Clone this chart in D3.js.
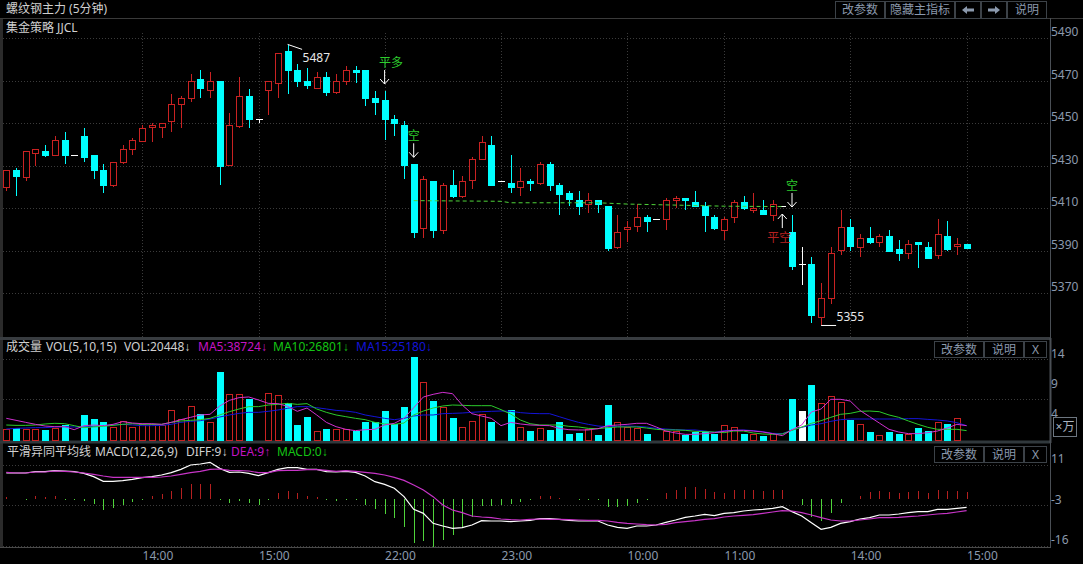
<!DOCTYPE html>
<html><head><meta charset="utf-8">
<script src="https://cdnjs.cloudflare.com/ajax/libs/d3/7.8.5/d3.min.js"></script>
<style>
html,body{margin:0;padding:0;background:#000;overflow:hidden}
svg{display:block}
text{font-family:"Noto Sans","Noto Sans CJK SC",sans-serif;font-size:12px}
tspan.ar{font-family:"Liberation Sans",sans-serif}
</style></head><body>
<svg id="c" width="1083" height="564"></svg>
<script>
const opens=[5420,5428,5425,5436,5437,5435,5442,5435,5444,5435,5428,5421,5432,5438,5442,5448,5448,5451,5459,5462,5471,5466,5470,5430,5449,5463,5452,5466,5469,5484,5475,5470,5467,5472,5465,5470,5475,
5475,5462,5461,5452,5449,5431,5401,5423,5400,5421,5416,5423,5433,5440,5423,5422,5420,5423,5422,5431,5421,5417,5414,5412,5414,
5411,5392,5400,5402,5406,5405,5405,5414,5415,5413,5411,5406,5400,5406,5413,5409,5409,5407,5411,
5399,5384,5384,5359,5368,5390,5401,5392,5396,5394,5397,5391,5389,5394,5392,5388,5397,5392,5393];
const closes=[5428,5425,5437,5438,5435,5442,5435,5435,5434,5428,5421,5432,5438,5442,5448,5449,5450,5459,5462,5470,5467,5470,5430,5449,5463,5452,5452,5470,5483,5475,5470,5468,5472,5465,5470,5475,5474,
5462,5460,5452,5450,5430,5399,5424,5400,5421,5416,5423,5433,5441,5421,5423,5420,5423,5422,5431,5421,5417,5414,5411,5414,5412,
5391,5399,5401,5406,5404,5405,5414,5415,5414,5411,5407,5401,5405,5413,5410,5410,5407,5412,5411,
5383,5384,5360,5368,5389,5401,5392,5396,5394,5397,5390,5389,5393,5393,5387,5398,5391,5393,5391];
const highs=[5428,5429,5437,5438,5440,5444,5446,5435,5448,5435,5431,5432,5440,5443,5449,5450,5450,5464,5463,5473,5475,5474,5470,5455,5472,5466,5452,5470,5483,5487,5478,5476,5474,5474,5473,5477,5477,
5475,5465,5465,5454,5451,5431,5425,5423,5422,5428,5425,5434,5444,5444,5423,5435,5429,5424,5432,5432,5422,5418,5418,5417,5414,
5411,5407,5404,5412,5407,5405,5415,5416,5415,5418,5413,5407,5406,5414,5416,5417,5414,5414,5411,
5407,5392,5387,5375,5392,5409,5405,5398,5401,5398,5400,5395,5395,5394,5394,5405,5404,5396,5393];
const lows=[5418,5416,5423,5430,5434,5435,5431,5435,5432,5424,5417,5420,5431,5435,5441,5441,5443,5446,5448,5460,5462,5462,5421,5430,5448,5448,5450,5454,5462,5464,5467,5466,5467,5463,5464,5468,5469,
5458,5454,5442,5444,5424,5396,5396,5396,5398,5415,5415,5419,5433,5421,5423,5417,5416,5418,5421,5418,5407,5411,5407,5408,5408,
5390,5391,5394,5399,5399,5405,5400,5410,5409,5411,5399,5400,5395,5403,5409,5408,5407,5404,5411,
5381,5374,5356,5355,5365,5388,5390,5387,5393,5392,5390,5385,5386,5382,5387,5386,5390,5388,5391];
const volumes=[1.78,2,1.78,1.78,1.67,2,2.5,0,4.17,3.5,2.94,2.17,3.17,2.17,2.61,2.72,2.5,4.94,3.5,5.61,4.28,2.94,11.33,7.61,7.61,6.83,0,7.83,7.44,6.11,2.5,3.83,1.44,1.83,1.78,1.83,1.5,
3.06,2.94,4.83,2.61,5.5,13.83,9.61,6.5,5.56,3.67,2.11,3.17,4.28,3.06,0,5,2.11,1.5,2,1.67,2.94,1,1.17,1.78,0.83,5.83,2.94,2.11,2,1,0,1.5,1.44,0.83,1.33,1.44,1,
2.5,2.17,1,1,0.67,1.11,0,6.83,4.83,9.17,6.17,7.28,6.33,3.33,2.67,1.33,0.83,1.33,1.06,1,2,1.5,2.94,2.67,3.61,0];
const ma5=[3.61,3.28,2.94,2.61,2.33,2.22,2.22,1.72,2.39,2.5,2.39,2.61,3.06,2.83,2.72,2.72,2.61,2.94,3.39,3.78,4.17,4.28,5.67,6.61,7.06,7.17,6.67,6.11,6.06,5.61,4.78,5.33,4.17,2.94,2.22,1.78,1.56,
1.72,1.78,2.5,2.78,3.61,5.39,7.17,7.61,7.94,7.72,5.83,4.39,4,3.61,2.39,2.94,2.67,2.5,2.44,2.39,1.94,1.72,1.67,1.67,1.89,2.39,2.5,2.61,2.78,2.78,2.17,1.5,1.17,0.94,0.94,1.06,1.22,
1.44,1.61,1.61,1.5,1.33,1.06,0.72,1.72,2.5,4.67,5.17,6.78,6.78,6.5,4.94,3.89,2.83,1.78,1.33,1.06,1.06,1.22,1.5,2,2.61,2.39];
const ma10=[2.5,2.44,2.44,2.5,2.67,2.78,2.72,2.39,2.06,2.17,2.28,2.44,2.61,2.72,2.61,2.61,2.61,2.94,3.17,3.28,3.39,3.61,4.17,4.72,5.17,5.56,5.56,5.83,5.94,6.11,5.94,6.06,5.17,4.61,4.17,3.89,3.61,
3.39,2.94,2.67,2.61,2.83,4.17,4.83,5.33,5.67,5.83,5.78,5.72,5.72,5.72,5.06,4.33,3.33,2.72,2.5,2.5,2.5,2.28,2.17,1.94,1.89,2.06,2.17,2.17,2.17,2,1.78,1.67,1.67,1.61,1.44,1.39,1.33,
1.22,1.5,1.5,1.17,1,0.94,1,1.61,2.17,2.78,3.22,3.78,4.28,4.44,4.78,4.83,4.72,4.17,3.78,3.17,2.61,2.11,1.78,1.78,1.78,1.56];
const ma15=[1.83,1.94,2,2.06,2.06,2.17,2.22,2.17,2.17,2.28,2.39,2.5,2.61,2.5,2.39,2.39,2.44,2.61,2.94,3.11,3.22,3.5,3.83,4.17,4.44,4.61,4.61,4.78,5,5.28,5.56,5.56,5.39,5.17,4.94,4.83,4.61,
4.17,3.89,3.61,3.39,3.61,4,4.17,4.17,4.39,4.44,4.5,4.61,4.72,4.78,4.83,4.78,4.56,4.44,4.39,4.39,3.89,3.39,2.94,2.61,2.33,2.22,2.28,2.33,2.28,2.17,1.94,1.83,1.72,1.67,1.67,1.5,1.28,
1.56,1.61,1.67,1.56,1.39,1.11,1.06,1.67,2.11,2.5,2.72,3.11,3.39,3.5,3.5,3.5,3.5,3.5,3.5,3.56,3.56,3.44,3.33,3.17,2.89,2.39];
const macd=[0.67,-0.1,-0.2,1,0.78,1,-0.2,-0.3,-0.67,-1.67,-3.67,-2.89,-2,-1.1,-0.2,1,1.67,2.67,3.67,5,5,5,-0.33,-1.22,-0.67,-1.44,-2,-0.33,2,2.67,2,1,0.78,-0.44,-0.67,-0.33,-0.44,
-2,-3.33,-5,-6.33,-9.33,-14.67,-14,-16,-13.67,-12,-9.33,-6,-2.33,-2.33,-2,-1.67,-1,-0.33,1,1,0.2,-0.1,-0.33,-0.33,-0.33,-2.67,-2.67,-2.33,-1.33,-0.33,-0.1,2,3,4,4,3.33,2.33,
2,3,3,3,2.67,3,3,-0.1,-2,-6,-7.33,-4.67,-1.33,-0.1,1,2.22,2.67,2.33,2,2.33,2.67,2,3,2.67,2.67,2.33];
const diff=[8.67,8.67,8.67,9.11,9.11,9.44,9.33,9.11,8.56,7.44,5.89,5.89,6.11,6.56,7.11,7.44,8,8.78,9.89,11.33,11.67,12.22,10.22,8.89,9,8.56,7.78,8.78,9.89,10.44,10.44,9.89,9.89,9.11,9,9.22,8.89,
7.67,5.78,4.89,3.56,0.78,-3.44,-4.78,-8.11,-9,-9.78,-9.56,-8.67,-7.22,-7.33,-7.33,-7.56,-7.33,-7.11,-6.56,-6.56,-6.78,-7.11,-7.33,-7.33,-7.33,-8.67,-9.44,-9.78,-9,-9,-8.67,-7.78,-7,-6.11,-5.67,-5.11,-5.56,
-4.78,-4.56,-4,-3.67,-3.44,-3.11,-2.56,-4.22,-5.67,-7.89,-10.11,-9.44,-8.11,-7.56,-6.67,-6.22,-5.33,-5.33,-5,-4.56,-4.22,-4.22,-3.44,-3.44,-3.11,-2.78];
const dea=[8.89,8.67,8.67,9,9,9.33,9.22,9,8.67,8.22,7.67,7.22,7.22,7.22,7.22,7.22,7.33,7.67,8.22,8.78,9.22,9.89,10,9.56,9.44,9.33,8.78,8.78,9.44,9.56,9.56,9.78,9.78,9.56,9.22,9.44,9.22,
8.89,8.56,8,7.22,6.22,4.67,3,0.78,-2,-3.67,-4.56,-5.67,-6,-6.22,-6.67,-6.89,-7,-6.78,-6.67,-6.78,-6.78,-6.89,-7,-7.11,-7.11,-7.33,-7.78,-8.11,-8.33,-8.56,-8.67,-8.44,-7.89,-7.56,-7.22,-6.78,-6.56,
-6,-5.67,-5.44,-5.22,-4.78,-4.33,-3.89,-4,-4.56,-5.33,-6.22,-7,-7.33,-7.33,-7,-6.67,-6.22,-6.22,-6.11,-5.89,-5.67,-5.33,-5,-4.78,-4.33,-3.89];
const dashIdx=[42,51,52,61,62,64,74,80];
const dashPrice=[5413.6,5413.3,5412.6,5412.6,5412.4,5412,5411,5410.8];
const priceTicks=[5490,5470,5450,5430,5410,5390,5370];
const volTicks=[14,9,4];
const volGrid=[13.5,6.78];
const macdTicks=[11,-3,-16];
const macdGrid=[11.2,-2.1,-15.5];
const timeIdx=[14,26,39,51,64,74,87,99];
const timeLabels=["14:00","15:00","22:00","23:00","10:00","11:00","14:00","15:00"];
const signals=[{i:39,tip:5468.5,dir:"down",label:"平多",color:"#2ecb2e",dx:6.5},{i:42,tip:5434,dir:"down",label:"空",color:"#2ecb2e",dx:0},{i:81,tip:5410.6,dir:"down",label:"空",color:"#2ecb2e",dx:0},{i:80,tip:5407.3,dir:"up",label:"平空",color:"#b52020",dx:-3}];

const AX="#8b99ad",RED="#c92222",CYAN="#00ffff",GRID="#3b3b3b";
const svg=d3.select("#c");
const x=d3.scaleLinear().domain([0,99]).range([6.3,966.6]);
const yP=d3.scaleLinear().domain([5490,5370]).range([38.3,293.3]);
const yV=d3.scaleLinear().domain([0,14]).range([440,356]);
const yM=d3.scaleLinear().domain([0,11]).range([499,466]);
const idx=d3.range(closes.length);
const colorOf=i=>closes[i]===opens[i]?"#fff":closes[i]>opens[i]?RED:CYAN;

// frame
function hl(y,x1,x2,c,w,dash){svg.append("line").attr("x1",x1).attr("x2",x2).attr("y1",y).attr("y2",y).attr("stroke",c).attr("stroke-width",w||1).attr("stroke-dasharray",dash||null);}
function vl(xp,y1,y2,c,w,dash){svg.append("line").attr("x1",xp).attr("x2",xp).attr("y1",y1).attr("y2",y2).attr("stroke",c).attr("stroke-width",w||1).attr("stroke-dasharray",dash||null);}
svg.append("rect").attr("x",0).attr("y",18).attr("width",3).attr("height",530).attr("fill","#2b2b2b");
hl(18.5,0,1083,"#3a3a3a");
hl(338.5,0,1051,"#383c40",3);
hl(442,0,1051,"#30383c",3);
hl(547.5,0,1051,"#4a4a4a");
vl(1050.5,18,548,"#4a4f55");
vl(1050.5,338,443,"#4a4f55",2);

// grids
priceTicks.forEach(t=>hl(Math.round(yP(t))+.5,3,1050,GRID,1,"1 2"));
timeIdx.forEach(i=>vl(Math.round(x(i))+.5,33,337,GRID,1,"1 2"));
volGrid.forEach(t=>hl(Math.round(yV(t))+.5,3,1050,GRID,1,"1 2"));
macdGrid.forEach(t=>hl(Math.round(yM(t))+.5,3,1050,GRID,1,"1 2"));

// axes
function styleAxis(g){g.select(".domain").remove();g.selectAll(".tick line").remove();g.selectAll("text").attr("fill",AX).style("font-size","12px");}
svg.append("g").attr("transform","translate(1051,-6.5)").call(d3.axisRight(yP).tickValues(priceTicks).tickSize(0).tickPadding(0).tickFormat(d3.format("d"))).call(styleAxis);
svg.append("g").attr("transform","translate(1051,-2.8)").call(d3.axisRight(yV).tickValues(volTicks).tickSize(0).tickPadding(0)).call(styleAxis);
const yMlab=d3.scaleOrdinal().domain(macdTicks).range([458,499,539]);
svg.append("g").attr("transform","translate(1051,1)").call(d3.axisRight(yMlab).tickValues(macdTicks).tickSize(0).tickPadding(0)).call(g=>{styleAxis(g);g.selectAll("text").text(d=>d);});
const xTime=d3.scaleOrdinal().domain(timeIdx).range(timeIdx.map(x));
svg.append("g").attr("transform","translate(0,549)").call(d3.axisBottom(xTime).tickValues(timeIdx).tickSize(0).tickPadding(0).tickFormat((d,k)=>timeLabels[k])).call(g=>{styleAxis(g);g.selectAll("text").attr("text-anchor","start").attr("dy","0.95em");});

// candles
const gc=svg.append("g").attr("shape-rendering","crispEdges");
const W=7;
gc.selectAll("line.w").data(idx).join("line").attr("class","w")
 .attr("x1",i=>Math.round(x(i))+.5).attr("x2",i=>Math.round(x(i))+.5)
 .attr("y1",i=>yP(highs[i])).attr("y2",i=>yP(lows[i])).attr("stroke",colorOf);
gc.selectAll("rect.b").data(idx.filter(i=>closes[i]!==opens[i])).join("rect").attr("class","b")
 .attr("x",i=>Math.round(x(i))-2.5).attr("width",W-1)
 .attr("y",i=>Math.round(yP(Math.max(opens[i],closes[i])))+.5)
 .attr("height",i=>Math.max(1,Math.round(Math.abs(yP(opens[i])-yP(closes[i])))))
 .attr("fill",i=>closes[i]>opens[i]?"#000":CYAN).attr("stroke",colorOf);
gc.selectAll("line.d").data(idx.filter(i=>closes[i]===opens[i])).join("line").attr("class","d")
 .attr("x1",i=>Math.round(x(i))-3).attr("x2",i=>Math.round(x(i))+4)
 .attr("y1",i=>Math.round(yP(closes[i]))+.5).attr("y2",i=>Math.round(yP(closes[i]))+.5).attr("stroke","#fff");

// dashed strategy line
svg.append("path").datum(d3.zip(dashIdx,dashPrice)).attr("fill","none").attr("stroke","#4fd43a").attr("stroke-dasharray","4 3")
 .attr("d",d3.line().x(d=>x(d[0])).y(d=>yP(d[1])));

// extremes
const hiI=d3.maxIndex(highs),loI=d3.minIndex(lows);
svg.append("path").attr("fill","none").attr("stroke","#fff")
 .attr("d",`M${x(hiI)},${yP(highs[hiI])-.3}L${x(hiI)+14.5},${yP(highs[hiI])+4.7}`);
svg.append("text").attr("x",x(hiI)+15).attr("y",62).attr("fill","#e8e8e8").text(highs[hiI]);
svg.append("path").attr("fill","none").attr("stroke","#fff")
 .attr("d",`M${x(loI)},${yP(lows[loI])+.3}H${x(loI)+15}`);
svg.append("text").attr("x",x(loI)+15.5).attr("y",321).attr("fill","#e8e8e8").text(lows[loI]);

// signals
signals.forEach(s=>{
  const px=x(s.i),tip=yP(s.tip),down=s.dir==="down",len=14,sg=down?-1:1;
  svg.append("path").attr("fill","none").attr("stroke","#fff")
   .attr("d",`M${px},${tip+sg*len}L${px},${tip}M${px-4.5},${tip+sg*5}L${px},${tip}L${px+4.5},${tip+sg*5}`);
  const ly=down?tip-len-8:tip+len+9;
  svg.append("text").attr("x",px+s.dx).attr("y",ly).attr("dy","0.38em").attr("text-anchor","middle").attr("fill",s.color).text(s.label);
});

// volume
const gv=svg.append("g").attr("shape-rendering","crispEdges");
gv.selectAll("rect").data(idx.filter(i=>volumes[i]>0)).join("rect")
 .attr("x",i=>Math.round(x(i))-2.5).attr("width",6)
 .attr("y",i=>Math.round(yV(volumes[i]))+.5).attr("height",i=>Math.round(yV(0)-yV(volumes[i])))
 .attr("fill",i=>closes[i]>opens[i]?"#000":colorOf(i)).attr("stroke",colorOf);
const line=y=>d3.line().x((d,i)=>x(i)).y(d=>y(d));
[[ma15,"#1414d8"],[ma10,"#2ccb2c"],[ma5,"#d030d0"]].forEach(([s,c])=>svg.append("path").datum(s).attr("fill","none").attr("stroke",c).attr("d",line(yV)));

// macd
svg.append("g").attr("shape-rendering","crispEdges").selectAll("line").data(idx).join("line")
 .attr("x1",i=>Math.round(x(i))+.5).attr("x2",i=>Math.round(x(i))+.5)
 .attr("y1",yM(0)).attr("y2",i=>yM(macd[i])).attr("stroke",i=>macd[i]>=0?"#b52020":"#4fd43a");
svg.append("path").datum(diff).attr("fill","none").attr("stroke","#fff").attr("stroke-width",1.2).attr("d",line(yM));
svg.append("path").datum(dea).attr("fill","none").attr("stroke","#c734c7").attr("stroke-width",1.2).attr("d",line(yM));

// headers
function txt(xp,yp,s,c,arrow){
  const t=svg.append("text").attr("x",xp).attr("y",yp).attr("dy","0.36em").attr("fill",c).text(s);
  if(arrow)t.append("tspan").attr("class","ar").text(arrow);
  return t;
}
const TX="#d0d0d0";
txt(6,9,"螺纹钢主力 (5分钟)",TX);
txt(6,28,"集金策略 JJCL",TX);
txt(6,347,"成交量",TX); txt(46,347,"VOL(5,10,15)",TX); txt(124,347,"VOL:20448",TX,"↓");
txt(198,347,"MA5:38724","#c414c4","↓"); txt(273,347,"MA10:26801","#14c414","↓"); txt(356,347,"MA15:25180","#1414d8","↓");
txt(7,452,"平滑异同平均线",TX); txt(95,452,"MACD(12,26,9)",TX); txt(186,452,"DIFF:9",TX,"↓");
txt(231,452,"DEA:9","#c414c4","↑"); txt(277,452,"MACD:0","#14c414","↓");

// buttons
function btn(x0,x1,y0,y1,s){
  svg.append("rect").attr("x",x0+.5).attr("y",y0+.5).attr("width",x1-x0-1).attr("height",y1-y0-1).attr("fill","#000").attr("stroke","#3c4248");
  if(s)svg.append("text").attr("x",(x0+x1)/2).attr("y",(y0+y1)/2).attr("dy","0.36em").attr("text-anchor","middle").attr("fill",AX).text(s);
}
btn(835,885,1,19,"改参数");btn(885,955,1,19,"隐藏主指标");btn(955,981,1,19,"");btn(981,1007,1,19,"");btn(1007,1047,1,19,"说明");
svg.append("path").attr("fill",AX).attr("d","M962,10l5,-4v2.5h7v3h-7v2.5z");
svg.append("path").attr("fill",AX).attr("d","M1000,10l-5,-4v2.5h-7v3h7v2.5z");
[341,446].forEach(y0=>{btn(934,984,y0,y0+17,"改参数");btn(984,1024,y0,y0+17,"说明");btn(1024,1047,y0,y0+17,"X");});
svg.append("rect").attr("x",1053.5).attr("y",417.5).attr("width",23).attr("height",19).attr("fill","#000").attr("stroke","#6d7680");
svg.append("text").attr("x",1065).attr("y",427).attr("dy","0.36em").attr("text-anchor","middle").attr("fill","#aab4c0").text("×万");
</script>
</body></html>
